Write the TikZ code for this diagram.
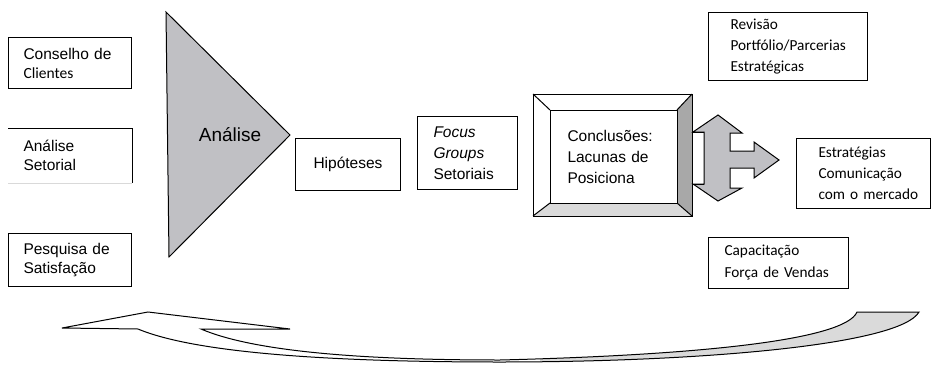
\documentclass[tikz,border=0pt]{standalone}
\usepackage{fontspec}
\setmainfont{Liberation Sans}
\newfontfamily\calib{Carlito}
\definecolor{trigray}{RGB}{192,192,196}
\definecolor{bevdark}{RGB}{168,168,168}
\definecolor{bevlight}{RGB}{218,218,218}
\definecolor{ribbon}{RGB}{218,218,218}
\hbadness=10000 \hfuzz=50pt
\begin{document}
\begin{tikzpicture}[x=1pt,y=-1pt,line width=1pt,line join=miter,
  box/.style={draw,rectangle,anchor=north west,align=left,inner ysep=0pt,
    font=\fontsize{15.5}{19}\selectfont},
  cbox/.style={box,font=\calib\fontsize{15.3}{21}\selectfont}]
\useasboundingbox (0,0) rectangle (931,364);

% left boxes
\node[box,inner xsep=15pt,text width=93pt,minimum height=51pt] (cons) at (8,37)
  {\mbox{Conselho de}\\{\calib Clientes}};
\node[box,draw=none,inner xsep=15pt,text width=93pt,minimum height=54pt] (anal) at (8,128)
  {Análise\\Setorial};
\draw (anal.north west) -- (anal.north east) -- (anal.south east);
\draw[black!15] (anal.south west) -- (anal.south east);
\node[box,inner xsep=15pt,text width=93pt,minimum height=53pt] (pesq) at (8,233)
  {\mbox{Pesquisa de}\\Satisfação};

% triangle
\draw[fill=trigray] (166,12) -- (290,135) -- (169,257) -- cycle;
\node[font=\fontsize{19}{22}\selectfont] (analise) at (230,135) {Análise};

% middle boxes
\node[box,align=center,inner xsep=0pt,minimum width=105pt,minimum height=52pt] (hip) at (295,138) {Hipóteses};
\node[box,inner xsep=16pt,text width=68pt,minimum height=73pt,font=\fontsize{15.5}{21}\selectfont] (focus) at (417,116)
  {\textit{Focus}\\\textit{Groups}\\Setoriais};

% bevel box
\coordinate (o1) at (533,94); \coordinate (o2) at (692,94);
\coordinate (o3) at (692,216); \coordinate (o4) at (533,216);
\coordinate (i1) at (550,110); \coordinate (i2) at (677,110);
\coordinate (i3) at (677,203); \coordinate (i4) at (550,203);
\fill[white] (o1) -- (o2) -- (i2) -- (i1) -- cycle;
\fill[white] (o1) -- (o4) -- (i4) -- (i1) -- cycle;
\fill[bevdark] (o2) -- (o3) -- (i3) -- (i2) -- cycle;
\fill[bevlight] (o3) -- (o4) -- (i4) -- (i3) -- cycle;
\draw (o1) rectangle (o3);
\draw (o1) -- (i1) (o2) -- (i2) (o3) -- (i3) (o4) -- (i4);
\node[box,inner xsep=17pt,text width=93pt,minimum height=93pt,font=\fontsize{15.5}{21}\selectfont] (concl) at (550,110)
  {\mbox{Conclusões:}\\\mbox{Lacunas de}\\Posiciona};

% three-way arrow
\draw[fill=trigray] (718,115) -- (742,133) -- (730,133) -- (730,151) -- (754,151) -- (754,142)
  -- (779,160) -- (754,178) -- (754,168) -- (730,168) -- (730,188) -- (742,188)
  -- (718,201) -- (693,184) -- (704,184) -- (704,132) -- (693,132) -- cycle;
\draw (692,132) -- (704,132) (692,184) -- (704,184);

% right boxes
\node[cbox,inner xsep=22pt,text width=115pt,minimum height=68pt] (rev) at (708,12)
  {Revisão\\\mbox{Portfólio/Parcerias}\\Estratégicas};
\node[cbox,inner xsep=22pt,text width=90pt,minimum height=70pt] (estr) at (796,138)
  {Estratégias\\Comunicação\\\mbox{com o mercado}};
\node[cbox,inner xsep=16pt,text width=108pt,minimum height=51pt,font=\calib\fontsize{15.3}{22}\selectfont] (cap) at (708,237)
  {Capacitação\\\mbox{Força de Vendas}};

% curved return arrow
\fill[white] (138,329) .. controls (200,355) and (350,362) .. (500,362)
  .. controls (700,362) and (900,345) .. (919,312) -- (857,312)
  .. controls (845,340) and (700,355) .. (500,360)
  .. controls (350,360) and (250,350) .. (201,329)
  -- (290,329) -- (148,312) -- (62,328) -- cycle;
\begin{scope}
\clip (540,290) rectangle (931,364);
\fill[ribbon] (138,329) .. controls (200,355) and (350,362) .. (500,362)
  .. controls (700,362) and (900,345) .. (919,312) -- (857,312)
  .. controls (845,340) and (700,355) .. (500,360)
  .. controls (350,360) and (250,350) .. (201,329)
  -- (290,329) -- (148,312) -- (62,328) -- cycle;
\end{scope}
\draw (138,329) .. controls (200,355) and (350,362) .. (500,362)
  .. controls (700,362) and (900,345) .. (919,312) -- (857,312)
  .. controls (845,340) and (700,355) .. (500,360)
  .. controls (350,360) and (250,350) .. (201,329)
  -- (290,329) -- (148,312) -- (62,328) -- cycle;
\end{tikzpicture}
\end{document}
